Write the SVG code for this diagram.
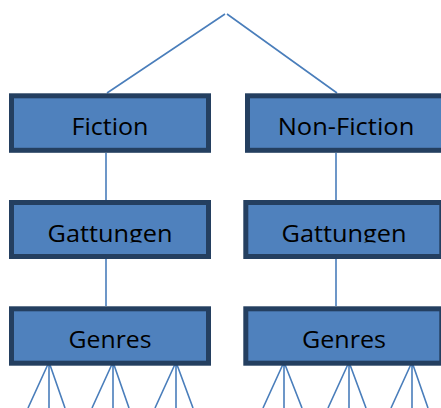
<svg xmlns="http://www.w3.org/2000/svg" width="441" height="408" viewBox="0 0 441 408">
<style>
.box{fill:#4F81BD;stroke:#243F60;stroke-width:5}
.lbl{font-family:"Open Sans","Liberation Sans",sans-serif;font-size:23.5px;fill:#000;text-anchor:middle}
.c{stroke:#4A7EBB;stroke-width:1.6;fill:none}
</style>
<defs>
<clipPath id="gclipL"><rect x="14" y="205" width="192" height="37.6"/></clipPath>
<clipPath id="gclipR"><rect x="248" y="205" width="200" height="37.6"/></clipPath>
</defs>
<rect width="441" height="408" fill="#fff"/>
<g id="connectors">
<path class="c" d="M225 14 L107 93 M227 14 L337 93"/>
<path class="c" d="M106 153 V200 M336 153 V200"/>
<path class="c" d="M106 259 V306 M336 259 V306"/>
<path class="c" d="M49 362 L28 408 M49 362 V408 M49 362 L65 408"/>
<path class="c" d="M113 362 L92 408 M113 362 V408 M113 362 L129 408"/>
<path class="c" d="M176 362 L155 408 M176 362 V408 M176 362 L193 408"/>
<path class="c" d="M284 362 L263 408 M284 362 V408 M284 362 L302 408"/>
<path class="c" d="M349 362 L328 408 M349 362 V408 M349 362 L366 408"/>
<path class="c" d="M412 362 L391 408 M412 362 V408 M412 362 L428 408"/>
</g>
<g id="fiction">
<rect class="box" x="11.5" y="95.8" width="197" height="54.5"/>
<text class="lbl" x="110" y="135" textLength="77" lengthAdjust="spacingAndGlyphs">Fiction</text>
</g>
<g id="nonfiction">
<rect class="box" x="247.5" y="95.8" width="197" height="54.5"/>
<text class="lbl" x="346" y="135" textLength="136.6" lengthAdjust="spacingAndGlyphs">Non-Fiction</text>
</g>
<g id="gattungen1">
<rect class="box" x="11.5" y="202.5" width="197" height="54"/>
<text class="lbl" x="110" y="241.7" textLength="125" lengthAdjust="spacingAndGlyphs" clip-path="url(#gclipL)">Gattungen</text>
</g>
<g id="gattungen2">
<rect class="box" x="245.8" y="202.5" width="196" height="54"/>
<text class="lbl" x="344" y="241.7" textLength="125" lengthAdjust="spacingAndGlyphs" clip-path="url(#gclipR)">Gattungen</text>
</g>
<g id="genres1">
<rect class="box" x="11.5" y="308.8" width="197" height="54.4"/>
<text class="lbl" x="110" y="348.3" textLength="83" lengthAdjust="spacingAndGlyphs">Genres</text>
</g>
<g id="genres2">
<rect class="box" x="245.8" y="308.8" width="196" height="54.4"/>
<text class="lbl" x="344" y="348.3" textLength="84" lengthAdjust="spacingAndGlyphs">Genres</text>
</g>
</svg>
